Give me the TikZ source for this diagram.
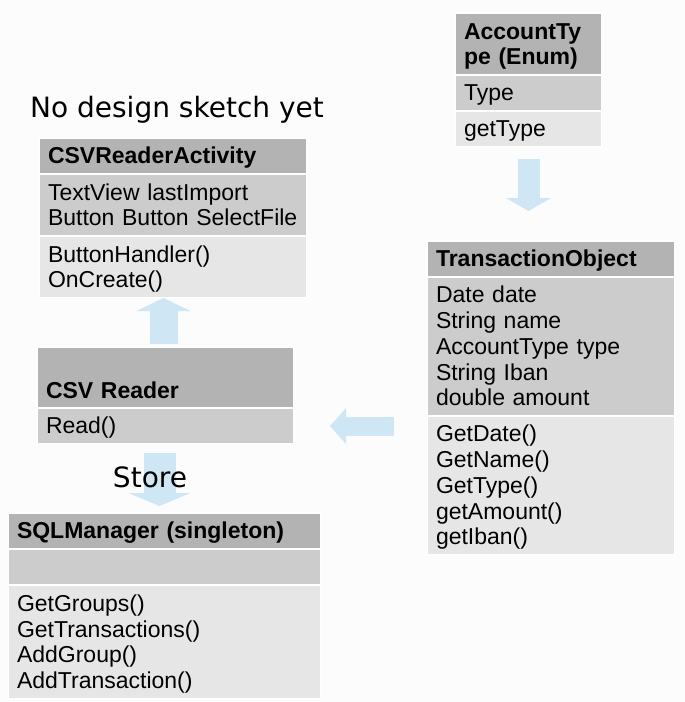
\documentclass[tikz,border=0pt]{standalone}
\usepackage{fontspec}
\setmainfont{Liberation Sans}
\newfontfamily\notefont{DejaVu Sans}
\usepackage{tikz}
\usetikzlibrary{arrows.meta,positioning}

\definecolor{hdrgray}{HTML}{B3B3B3}
\definecolor{attrgray}{HTML}{CCCCCC}
\definecolor{methgray}{HTML}{E6E6E6}
\definecolor{flowblue}{HTML}{CFE6F4}
\definecolor{pagebg}{HTML}{FCFCFC}
\newcommand{\rowstrut}{\rule[-5pt]{0pt}{25.7pt}}

\begin{document}
\begin{tikzpicture}
		[
		x = 1pt, y = -1pt,
		part/.style = {draw=white, line width=1pt, anchor=north west, align=left, inner xsep=8.5pt, inner ysep=0pt, font=\fontsize{23}{25.7}\selectfont},
		hdr/.style = {part, fill=hdrgray, font=\fontsize{23}{25.7}\selectfont\bfseries},
		attr/.style = {part, fill=attrgray},
		meth/.style = {part, fill=methgray},
		note/.style = {font=\notefont\fontsize{28}{32}\selectfont, inner sep=0pt},
		flow/.style n args = {3}{draw=flowblue, line width=#1, -{Triangle[width=#2, length=#3, line width=0pt]}}
		]
		
		\path[fill=pagebg, use as bounding box] (0,0) rectangle (685,702);
		
		\node[note, anchor=base west] (sketch) at (30,117) {No design sketch yet};
		
		\node[hdr, text width=129pt, minimum height=61pt] (acct) at (455,13) {\rowstrut AccountTy\\\rowstrut pe (Enum)};
		\node[attr, text width=129pt, minimum height=35pt, below=0pt of acct] (acctattr) {\rowstrut Type};
		\node[meth, text width=129pt, minimum height=35pt, below=0pt of acctattr] (acctmeth) {\rowstrut getType};
		
		\node[hdr, text width=230pt, minimum height=35pt] (trans) at (427,241) {\rowstrut TransactionObject};
		\node[attr, text width=230pt, minimum height=138pt, below=0pt of trans] (transattr) {\rowstrut Date date\\\rowstrut String name\\\rowstrut AccountType type\\\rowstrut String Iban\\\rowstrut double amount};
		\node[meth, text width=230pt, minimum height=138pt, below=0pt of transattr] (transmeth) {\rowstrut GetDate()\\\rowstrut GetName()\\\rowstrut GetType()\\\rowstrut getAmount()\\\rowstrut getIban()};
		
		\node[hdr, text width=250pt, minimum height=35pt] (act) at (39,138) {\rowstrut CSVReaderActivity};
		\node[attr, text width=250pt, minimum height=61pt, below=0pt of act] (actattr) {\rowstrut TextView lastImport\\\rowstrut Button Button SelectFile};
		\node[meth, text width=250pt, minimum height=61pt, below=0pt of actattr] (actmeth) {\rowstrut ButtonHandler()\\\rowstrut OnCreate()};
		
		\node[hdr, text width=239pt, minimum height=60pt] (reader) at (37,347) {\rowstrut\\\rowstrut CSV Reader};
		\node[attr, text width=239pt, minimum height=35pt, below=0pt of reader] (readrow) {\rowstrut Read()};
		
		\node[hdr, text width=295pt, minimum height=35pt] (sql) at (8,513) {\rowstrut SQLManager (singleton)};
		\node[attr, text width=295pt, minimum height=35pt, below=0pt of sql] (sqlattr) {};
		\node[meth, text width=295pt, minimum height=113pt, below=0pt of sqlattr] (sqlmeth) {\rowstrut GetGroups()\\\rowstrut GetTransactions()\\\rowstrut AddGroup()\\\rowstrut AddTransaction()};
		
		\draw[flow={22pt}{45pt}{13pt}, shorten <=12pt, shorten >=30pt] (acctmeth.south) -- (acctmeth.south |- trans.north);
		\draw[flow={28pt}{54pt}{13pt}, shorten <=3pt] ([xshift=-2pt]reader.north) -- ([xshift=-2pt]reader.north |- actmeth.south);
		\draw[flow={19pt}{36pt}{16pt}, shorten <=33pt, shorten >=36pt] (readrow.east -| trans.west) -- (readrow.east);
		\draw[flow={32pt}{62pt}{13pt}, shorten <=9pt, shorten >=7pt] ([xshift=-6pt]readrow.south) -- ([xshift=-6pt]readrow.south |- sql.north);
		
		\node[note, anchor=base] (store) at (150,487) {Store};
		
\end{tikzpicture}
\end{document}
